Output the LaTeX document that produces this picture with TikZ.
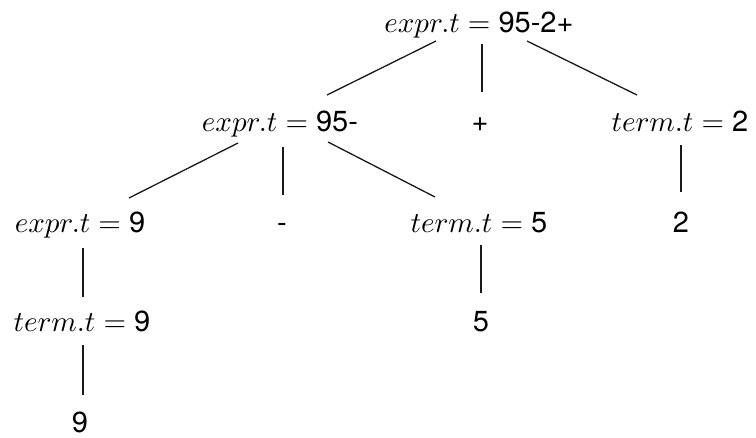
\documentclass[tikz,border=0pt]{standalone}
\usepackage{fontspec}
\usepackage{graphicx}
\newfontfamily\hv{TeX Gyre Heros}
\tikzset{
  lbl/.style={inner sep=0pt, anchor=base},
  edge/.style={line width=1.3pt, black!90}
}
\newcommand{\nm}[1]{\mbox{\hv #1}}
\newcommand{\tx}[1]{\scalebox{2.9}{#1}}
\begin{document}
\begin{tikzpicture}[x=1pt,y=-1pt]
\useasboundingbox (0,0) rectangle (756,437);
\node[lbl] (root) at (479,32) {\tx{$expr.t = \nm{95-2+}$}};
\node[lbl] (e2) at (280,131) {\tx{$expr.t = \nm{95-}$}};
\node[lbl] (plus) at (480,131) {\tx{\nm{+}}};
\node[lbl] (t2) at (680,131) {\tx{$term.t = \nm{2}$}};
\node[lbl] (e9) at (80,232) {\tx{$expr.t = \nm{9}$}};
\node[lbl] (minus) at (282,232) {\tx{\nm{-}}};
\node[lbl] (t5) at (479,232) {\tx{$term.t = \nm{5}$}};
\node[lbl] (two) at (681,232) {\tx{\nm{2}}};
\node[lbl] (t9) at (82,331) {\tx{$term.t = \nm{9}$}};
\node[lbl] (five) at (481,331) {\tx{\nm{5}}};
\node[lbl] (nine) at (80,432) {\tx{\nm{9}}};
\draw[edge] ([shift={(-43,9)}]root.base) -- ([shift={(47,-36)}]e2.base);
\draw[edge] ([shift={(3,12)}]root.base) -- ([shift={(2,-39)}]plus.base);
\draw[edge] ([shift={(48,9)}]root.base) -- ([shift={(-43,-36)}]t2.base);
\draw[edge] ([shift={(-42,12)}]e2.base) -- ([shift={(49,-34)}]e9.base);
\draw[edge] ([shift={(3,16)}]e2.base) -- ([shift={(1,-37)}]minus.base);
\draw[edge] ([shift={(48,11)}]e2.base) -- ([shift={(-44,-35)}]t5.base);
\draw[edge] ([shift={(1,14)}]t2.base) -- ([shift={(0,-40)}]two.base);
\draw[edge] ([shift={(2,13)}]t5.base) -- ([shift={(0,-38)}]five.base);
\draw[edge] ([shift={(3,16)}]e9.base) -- ([shift={(1,-34)}]t9.base);
\draw[edge] ([shift={(1,14)}]t9.base) -- ([shift={(3,-37)}]nine.base);
\end{tikzpicture}
\end{document}
